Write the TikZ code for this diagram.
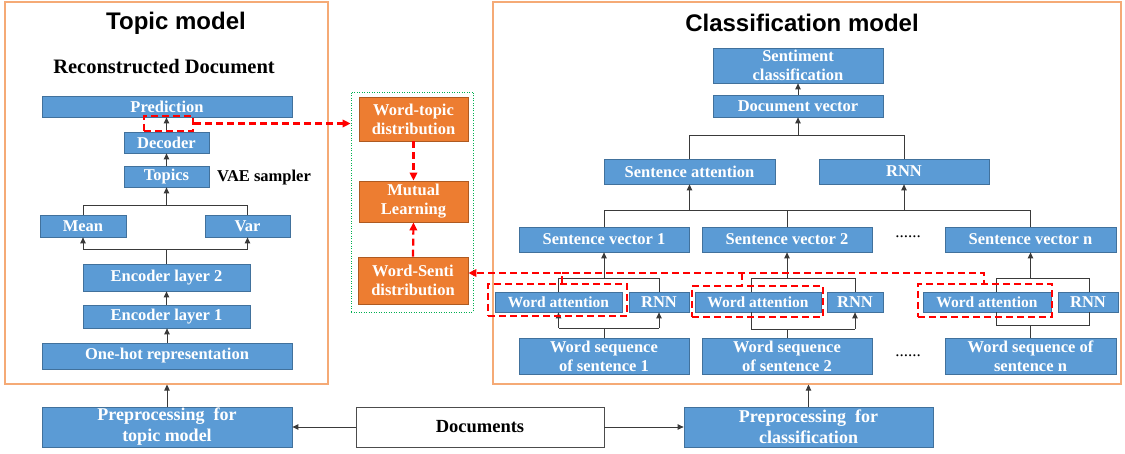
\documentclass[tikz,border=0pt]{standalone}
\usepackage{fontspec}
\setmainfont{Liberation Serif}
\newfontfamily\arialfont{Liberation Sans}
\usetikzlibrary{arrows.meta}
\definecolor{boxblue}{HTML}{5B9BD5}
\definecolor{boxblueline}{HTML}{41719C}
\definecolor{boxorange}{HTML}{ED7D31}
\definecolor{boxorangeline}{HTML}{AE5A21}
\definecolor{framecol}{HTML}{F5AA76}
\definecolor{greendot}{HTML}{00B050}
\definecolor{linegray}{HTML}{3A3A3A}
\tikzset{
  sz/.style 2 args={minimum width=#1pt, minimum height=#2pt},
  bbox/.style={draw=boxblueline, fill=boxblue, line width=0.8pt, text=white,
    font=\bfseries\fontsize{16.5}{19}\selectfont, align=center, inner sep=0pt},
  obox/.style={bbox, draw=boxorangeline, fill=boxorange},
  wbox/.style={bbox, draw=black!70, fill=white, text=black,
    font=\bfseries\fontsize{18.5}{21}\selectfont},
  frame/.style={draw=framecol, line width=1.2pt, inner sep=0pt},
  gframe/.style={draw=greendot, line width=0.8pt, dash pattern=on 1pt off 1.5pt, inner sep=0pt},
  title/.style={font=\arialfont\bfseries\fontsize{24}{28}\selectfont, inner sep=0pt},
  lbl/.style={font=\bfseries\fontsize{16.5}{19}\selectfont, inner sep=0pt},
  dots/.style={font=\fontsize{17}{19}\selectfont, inner sep=0pt},
  wafont/.style={font=\bfseries\fontsize{15.5}{18}\selectfont},
  conn/.style={draw=linegray, line width=0.9pt},
  arr/.style={conn, -{Triangle[length=6pt,width=5.5pt]}},
  reddash/.style={draw=red, line width=2.2pt, dash pattern=on 7pt off 4pt},
  redarr/.style={reddash, -{Triangle[length=8pt,width=7.5pt]}},
  redbox/.style={reddash, inner sep=0pt},
}
\begin{document}
\begin{tikzpicture}[x=1pt,y=-1pt]
\fill[white] (0,0) rectangle (1125,454);
\useasboundingbox (0,0) rectangle (1125,454);

% frames
\node[frame, sz={323}{382}] (tframe) at (166.5,193) {};
\node[frame, sz={628}{382}] (cframe) at (807,193) {};
\node[gframe, sz={122}{220}] (green) at (412,202) {};

% titles
\node[title] (ttitle) at (176,23) {Topic model};
\node[title] (ctitle) at (802,23) {Classification model};
\node[font=\bfseries\fontsize{20.5}{24}\selectfont, inner sep=0pt] (recon) at (164,67) {Reconstructed Document};

% ---------------- topic model
\node[bbox, sz={250}{21}] (pred) at (167,106.5) {Prediction};
\node[bbox, sz={85}{21}] (dec) at (166.5,142.5) {Decoder};
\node[bbox, sz={85}{21}] (topics) at (166.5,176.5) {Topics};
\node[lbl, anchor=west] (vae) at (217,178) {VAE sampler};
\node[bbox, sz={86}{22}] (mean) at (83,226) {Mean};
\node[bbox, sz={85}{22}] (var) at (247.5,226) {Var};
\node[bbox, sz={167}{27}] (enc2) at (166.5,277.5) {Encoder layer 2};
\node[bbox, sz={167}{23}] (enc1) at (166.5,316.5) {Encoder layer 1};
\node[bbox, sz={250}{26}] (onehot) at (167,356) {One-hot representation};

% bottom row
\node[bbox, sz={250}{40}, font=\bfseries\fontsize{18}{21}\selectfont] (pretopic) at (167,427) {Preprocessing\ \ for\\topic model};
\node[wbox, sz={248}{40}] (docs) at (480,427) {Documents};
\node[bbox, sz={249}{40}, font=\bfseries\fontsize{18}{21}\selectfont] (precls) at (808.5,427) {Preprocessing\ \ for\\classification};

% middle
\node[obox, sz={109}{44}] (wt) at (413.5,119) {Word-topic\\distribution};
\node[obox, sz={109}{41}] (ml) at (413.5,201.5) {Mutual\\Learning};
\node[obox, sz={110}{47}] (ws) at (413,280.5) {Word-Senti\\distribution};

% ---------------- classification model
\node[bbox, sz={170}{35}] (sent) at (798,65.5) {Sentiment\\classification};
\node[bbox, sz={170}{22}] (docv) at (798,106) {Document vector};
\node[bbox, sz={171}{25}] (satt) at (689.5,171.5) {Sentence attention};
\node[bbox, sz={170}{25}] (rnnt) at (904,171.5) {RNN};
\node[bbox, sz={170}{25}] (sv1) at (604,239.5) {Sentence vector 1};
\node[bbox, sz={170}{25}] (sv2) at (787,239.5) {Sentence vector 2};
\node[bbox, sz={171}{25}] (svn) at (1030.5,239.5) {Sentence vector n};
\node[dots] (dots1) at (908,237) {......};
\node[bbox, sz={127}{20}, wafont] (wa1) at (558.5,302) {Word attention};
\node[bbox, sz={60}{20}] (rnn1) at (659,302) {RNN};
\node[bbox, sz={126}{20}, wafont] (wa2) at (758,302) {Word attention};
\node[bbox, sz={56}{20}] (rnn2) at (855,302) {RNN};
\node[bbox, sz={128}{20}, wafont] (wan) at (987,302) {Word attention};
\node[bbox, sz={60}{20}] (rnnn) at (1088,302) {RNN};
\node[bbox, sz={170}{36}] (seq1) at (604,356) {Word sequence\\of sentence 1};
\node[bbox, sz={170}{36}] (seq2) at (787,356) {Word sequence\\of sentence 2};
\node[bbox, sz={171}{36}] (seqn) at (1030.5,356) {Word sequence of\\sentence n};
\node[dots] (dots2) at (908,356) {......};

% helper coordinates
\coordinate (ty1) at (0,205);
\coordinate (ty2) at (0,249);
\coordinate (cy1) at (0,135);
\coordinate (cy2) at (0,210);
\coordinate (cy3) at (0,278);
\coordinate (cl1) at (0,328);
\coordinate (cl2) at (0,329);
\coordinate (cln) at (0,325);
\coordinate (ry) at (0,273);
\coordinate (x751) at (751,0);
\coordinate (x996) at (996,0);
\coordinate (x1089) at (1089,0);
\coordinate (rx1) at (562,0);
\coordinate (rx2) at (742,0);
\coordinate (rx3) at (984,0);

% ---------------- topic connectors
\draw[arr] (dec.north) -- (dec.north |- pred.south);
\draw[arr] (topics.north) -- (topics.north |- dec.south);
\draw[conn] (mean.north) -- (mean.north |- ty1) -- (var.north |- ty1) -- (var.north);
\draw[arr] (topics.south |- ty1) -- (topics.south);
\draw[conn] (enc2.north) -- (enc2.north |- ty2);
\draw[conn] (mean.south |- ty2) -- (var.south |- ty2);
\draw[arr] (mean.south |- ty2) -- (mean.south);
\draw[arr] (var.south |- ty2) -- (var.south);
\draw[arr] (enc1.north) -- (enc1.north |- enc2.south);
\draw[arr] (onehot.north) -- (onehot.north |- enc1.south);
\draw[arr] (pretopic.north) -- (pretopic.north |- tframe.south);
\draw[arr] (docs.west) -- (pretopic.east);
\draw[arr] (docs.east) -- (precls.west);
\draw[arr] (precls.north) -- (precls.north |- cframe.south);

% ---------------- classification connectors
\draw[arr] (docv.north) -- (docv.north |- sent.south);
\draw[conn] (satt.north) -- (satt.north |- cy1) -- (rnnt.north |- cy1) -- (rnnt.north);
\draw[arr] (docv.south |- cy1) -- (docv.south);
\draw[conn] (sv1.north) -- (sv1.north |- cy2) -- (svn.north |- cy2) -- (svn.north);
\draw[conn] (sv2.north) -- (sv2.north |- cy2);
\draw[arr] (satt.south |- cy2) -- (satt.south);
\draw[arr] (rnnt.south |- cy2) -- (rnnt.south);
% sentence 1
\draw[conn] (wa1.north) -- (wa1.north |- cy3) -- (rnn1.north |- cy3) -- (rnn1.north);
\draw[arr] (sv1.south |- cy3) -- (sv1.south);
\draw[conn] (seq1.north) -- (seq1.north |- cl1);
\draw[conn] (wa1.south |- cl1) -- (rnn1.south |- cl1);
\draw[arr] (wa1.south |- cl1) -- (wa1.south);
\draw[arr] (rnn1.south |- cl1) -- (rnn1.south);
% sentence 2
\draw[conn] (x751 |- wa2.north) -- (x751 |- cy3) -- (rnn2.north |- cy3) -- (rnn2.north);
\draw[arr] (sv2.south |- cy3) -- (sv2.south);
\draw[conn] (seq2.north) -- (seq2.north |- cl2);
\draw[conn] (x751 |- wa2.south) -- (x751 |- cl2) -- (rnn2.south |- cl2);
\draw[arr] (rnn2.south |- cl2) -- (rnn2.south);
% sentence n
\draw[conn] (x996 |- wan.north) -- (x996 |- cy3) -- (x1089 |- cy3) -- (x1089 |- rnnn.north);
\draw[arr] (svn.south |- cy3) -- (svn.south);
\draw[conn] (seqn.north) -- (seqn.north |- cln);
\draw[conn] (x996 |- wan.south) -- (x996 |- cln) -- (x1089 |- cln) -- (x1089 |- rnnn.south);

% ---------------- red dashed
\node[redbox, sz={49}{15}] (r0) at (168.5,123.5) {};
\node[redbox, sz={139}{32}] (r1) at (557.5,300) {};
\node[redbox, sz={131}{31}] (r2) at (757.5,301.5) {};
\node[redbox, sz={134}{33}] (rn) at (985,300.5) {};
\draw[redarr] (r0.east) -- (green.west |- r0.east);
\draw[redarr] (wt.south) -- (ml.north);
\draw[redarr] (ws.north) -- (ml.south);
\draw[redarr] (rx1 |- r1.north) -- (rx1 |- ry) -- (ws.east |- ry);
\draw[reddash] (rx1 |- ry) -- (rx3 |- ry) -- (rx3 |- rn.north);
\draw[reddash] (rx2 |- ry) -- (rx2 |- r2.north);
\end{tikzpicture}
\end{document}
